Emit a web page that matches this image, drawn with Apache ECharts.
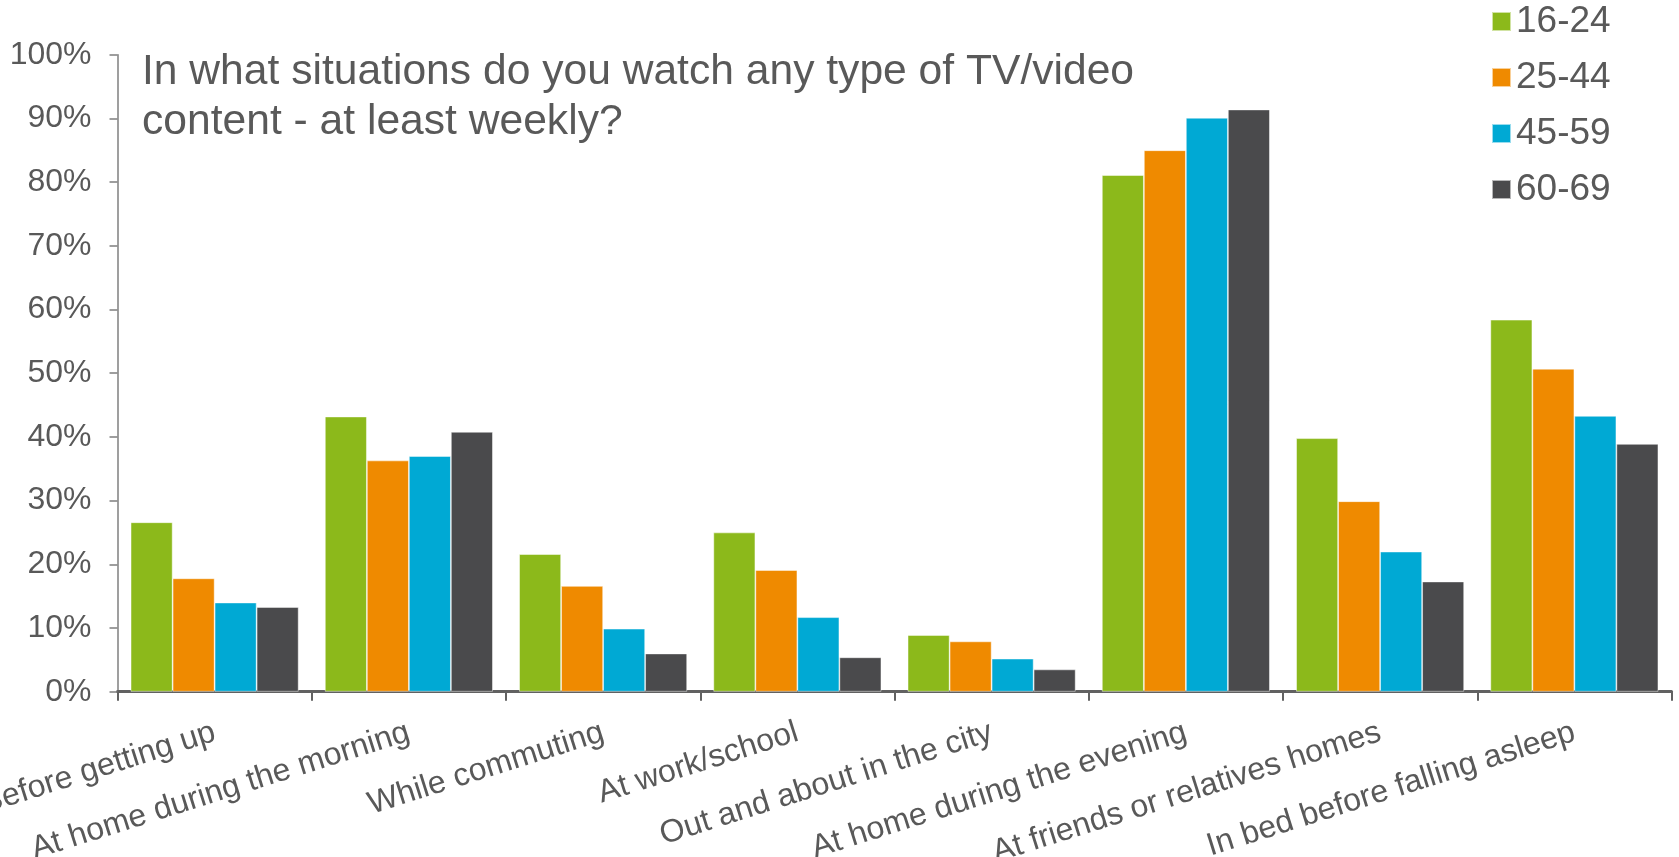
<!DOCTYPE html>
<html>
<head>
<meta charset="utf-8">
<script src="https://cdn.jsdelivr.net/npm/echarts@6/dist/echarts.min.js"></script>
<style>
html,body{margin:0;padding:0;background:#fff;}
#chart{width:1679px;height:857px;}
</style>
</head>
<body>
<div id="chart"></div>
<script>
const categories = ['Before getting up','At home during the morning','While commuting','At work/school','Out and about in the city','At home during the evening','At friends or relatives homes','In bed before falling asleep'];
const seriesNames = ['16-24','25-44','45-59','60-69'];
const age16_24 = [26.6, 43.2, 21.6, 25.0, 8.9, 81.1, 39.8, 58.4];
const age25_44 = [17.8, 36.3, 16.6, 19.1, 7.9, 85.0, 29.9, 50.7];
const age45_59 = [14.0, 37.0, 9.9, 11.7, 5.2, 90.1, 22.0, 43.3];
const age60_69 = [13.3, 40.8, 6.0, 5.4, 3.5, 91.4, 17.3, 38.9];
const yTicks = {min: 0, max: 100, interval: 10};
const titleText = 'In what situations do you watch any type of TV/video\ncontent - at least weekly?';

const colors = ['#8CB91B', '#EF8A00', '#00A9D4', '#4A4A4C'];
const font = 'Liberation Sans, Arial, sans-serif';
const textColor = '#595959';
const allData = [age16_24, age25_44, age45_59, age60_69];

const chart = echarts.init(document.getElementById('chart'), null, {renderer: 'canvas'});
chart.setOption({
  animation: false,
  backgroundColor: '#ffffff',
  title: {
    text: titleText,
    left: 142,
    top: 47,
    padding: 0,
    textStyle: {fontFamily: font, fontSize: 42.6, fontWeight: 'normal', color: textColor, lineHeight: 50}
  },
  legend: {
    orient: 'vertical',
    left: 1491,
    top: 3,
    padding: 0,
    itemWidth: 19,
    itemHeight: 19,
    itemGap: 19,
    itemTextGap: 18,
    icon: 'rect',
    data: seriesNames,
    textStyle: {fontFamily: font, fontSize: 37, color: textColor}
  },
  grid: {left: 117.5, right: 7.5, top: 54.7, bottom: 165.3, containLabel: false, outerBoundsMode: 'none'},
  xAxis: {
    type: 'category',
    data: categories,
    axisLine: {show: true, lineStyle: {color: '#616161', width: 3}},
    axisTick: {show: true, alignWithLabel: false, length: 9, lineStyle: {color: '#616161', width: 2}},
    axisLabel: {
      interval: 0,
      rotate: 17.5,
      margin: 40,
      fontFamily: font,
      fontSize: 32,
      color: textColor
    }
  },
  yAxis: {
    type: 'value',
    min: yTicks.min,
    max: yTicks.max,
    interval: yTicks.interval,
    axisLine: {show: true, lineStyle: {color: '#7f7f7f', width: 1.5}},
    axisTick: {show: true, length: 8, lineStyle: {color: '#7f7f7f', width: 1.5}},
    splitLine: {show: false},
    axisLabel: {
      formatter: '{value}%',
      margin: 26,
      fontFamily: font,
      fontSize: 32,
      color: textColor
    }
  },
  series: seriesNames.map((name, i) => ({
    name: name,
    type: 'bar',
    data: allData[i],
    barGap: '0%',
    barCategoryGap: '13.5%',
    itemStyle: {color: colors[i], borderColor: 'rgba(255,255,255,0.6)', borderWidth: 0.8}
  }))
});
</script>
</body>
</html>
